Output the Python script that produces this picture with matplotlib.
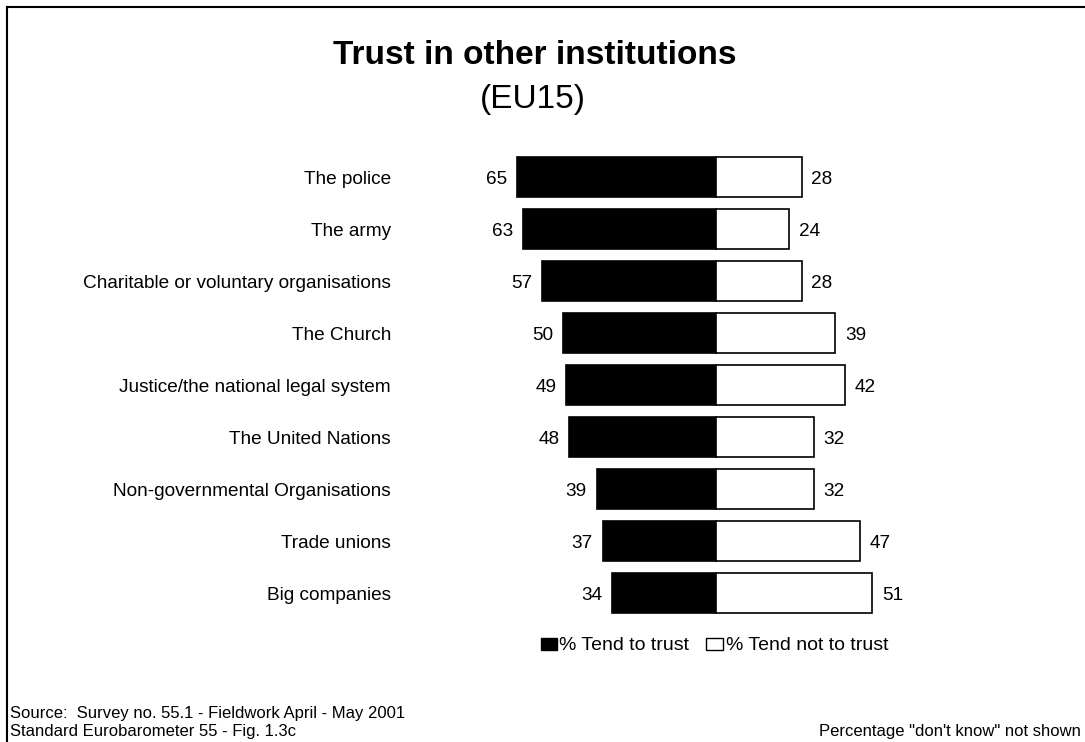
import matplotlib
matplotlib.use("Agg")
import matplotlib.pyplot as plt
import matplotlib.transforms as mtransforms
from matplotlib.lines import Line2D
from matplotlib.patches import Rectangle

plt.rcParams["font.family"] = ["Liberation Sans", "DejaVu Sans"]

institutions = [
    "The police",
    "The army",
    "Charitable or voluntary organisations",
    "The Church",
    "Justice/the national legal system",
    "The United Nations",
    "Non-governmental Organisations",
    "Trade unions",
    "Big companies",
]
tend_to_trust = [65, 63, 57, 50, 49, 48, 39, 37, 34]
tend_not_to_trust = [28, 24, 28, 39, 42, 32, 32, 47, 51]

W, H = 1085, 742
fig = plt.figure(figsize=(W / 100, H / 100), dpi=100)
ax = fig.add_axes([0, 0, 1, 1])

# pixel layout: zero line at x=716, ~3.06 px per percent, rows 52 px apart
px_per_unit = 3.06
x0 = 716
row0, row_step = 177, 52
ax.set_xlim(-x0 / px_per_unit, (W - x0) / px_per_unit)
ax.set_ylim((H - row0) / row_step, -row0 / row_step)
ax.axis("off")

ypos = list(range(len(institutions)))
ax.barh(ypos, [-v for v in tend_to_trust], height=0.76, color="black",
        edgecolor="black", linewidth=1.2)
ax.barh(ypos, tend_not_to_trust, height=0.76, color="white",
        edgecolor="black", linewidth=1.2)

for y, a, b in zip(ypos, tend_to_trust, tend_not_to_trust):
    ax.annotate(str(a), (-a, y), xytext=(-7, 0), textcoords="offset points",
                ha="right", va="center_baseline", fontsize=13.7)
    ax.annotate(str(b), (b, y), xytext=(7, 0), textcoords="offset points",
                ha="left", va="center_baseline", fontsize=13.7)

lab_tr = mtransforms.blended_transform_factory(fig.transFigure, ax.transData)
for y, name in zip(ypos, institutions):
    ax.text(391 / W, y, name, transform=lab_tr, ha="right", va="center_baseline",
            fontsize=13.7)

# titles
fig.text(535 / W, 1 - 64 / H, "Trust in other institutions", ha="center",
         va="baseline", fontsize=24, fontweight="bold")
fig.text(533 / W, 1 - 108 / H, "(EU15)", ha="center", va="baseline", fontsize=24)

# legend drawn by hand: small boxes next to the labels
leg_y = 1 - 644 / H
fig.patches.append(Rectangle((541 / W, leg_y - 6 / H), 16 / W, 12 / H,
                             facecolor="black", edgecolor="black", lw=1,
                             transform=fig.transFigure, figure=fig))
fig.text(559 / W, leg_y, "% Tend to trust", ha="left", va="center_baseline",
         fontsize=14)
fig.patches.append(Rectangle((706 / W, leg_y - 6 / H), 17 / W, 12 / H,
                             facecolor="white", edgecolor="black", lw=1,
                             transform=fig.transFigure, figure=fig))
fig.text(726 / W, leg_y, "% Tend not to trust", ha="left", va="center_baseline",
         fontsize=14)

# footer
fig.text(10 / W, 1 - 712 / H, "Source:  Survey no. 55.1 - Fieldwork April - May 2001",
         ha="left", va="center_baseline", fontsize=12)
fig.text(10 / W, 1 - 730 / H, "Standard Eurobarometer 55 - Fig. 1.3c",
         ha="left", va="center_baseline", fontsize=12)
fig.text(1081 / W, 1 - 730 / H, 'Percentage "don\'t know" not shown',
         ha="right", va="center_baseline", fontsize=12)

# frame lines along the top and left edge
fig.lines.append(Line2D([7 / W, 1], [1 - 7 / H, 1 - 7 / H], color="black", lw=1.5,
                        transform=fig.transFigure))
fig.lines.append(Line2D([7 / W, 7 / W], [0, 1 - 7 / H], color="black", lw=1.5,
                        transform=fig.transFigure))

fig.savefig("out.png", dpi=100)
